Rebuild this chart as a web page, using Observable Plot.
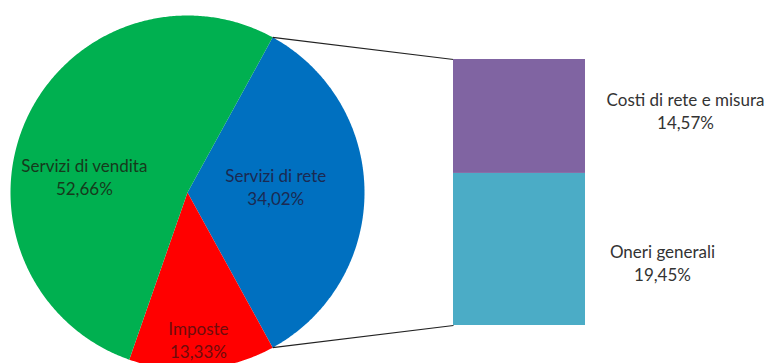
<!DOCTYPE html>
<html>
<head>
<meta charset="utf-8">
<script src="https://cdn.jsdelivr.net/npm/d3@7"></script>
<script src="https://cdn.jsdelivr.net/npm/@observablehq/plot@0.6"></script>
<style>
  html, body { margin: 0; padding: 0; background: #fff; }
  #chart svg { display: block; }
</style>
</head>
<body>
<div id="chart"></div>
<script>
// ---- Data ----
const pieCategories = ["Servizi di rete", "Imposte", "Servizi di vendita"];
const pieValues = [34.02, 13.33, 52.66];
const pieColors = ["#0070c0", "#ff0000", "#00b050"];
const pieLabelColors = ["#1b2a52", "#6e0c0c", "#163a1c"];

const barCategories = ["Oneri generali", "Costi di rete e misura"]; // bottom to top
const barValues = [19.45, 14.57];
const barColors = ["#4bacc6", "#8064a2"];

// ---- Layout ----
const W = 765, H = 363;
const layout = {
  cx: 187, cy: 192, r: 177,
  labelRadius: [0.50, 0.83, 0.59],   // fraction of radius, per pie slice
  labelShift: [-4, 0.5, -15],        // degrees, per pie slice
  barX0: 453, barX1: 585, barBottom: 325, barTop: 59,
  barLabelX: [662, 685], barLabelDy: [13, -6]
};
const fmt = v => v.toFixed(2).replace(".", ",") + "%";
const rad = Math.PI / 180;

// Pie: the "other" slice (Servizi di rete) is centred on the right-hand horizontal
const total = d3.sum(pieValues);
const pie = d3.pie().sort(null).value(d => d)
  .startAngle(Math.PI / 2 - Math.PI * pieValues[0] / total)
  .endAngle(Math.PI / 2 - Math.PI * pieValues[0] / total + 2 * Math.PI);
const arcs = pie(pieValues);
const pt = (a, rr) => ({x: layout.cx + rr * Math.sin(a), y: layout.cy - rr * Math.cos(a)});

const sliceMarks = arcs.map((a, i) => {
  const pts = [pt(0, 0)];
  const n = Math.max(2, Math.ceil((a.endAngle - a.startAngle) / (0.5 * rad)));
  for (let k = 0; k <= n; k++) pts.push(pt(a.startAngle + (a.endAngle - a.startAngle) * k / n, layout.r));
  pts.push(pt(0, 0));
  return Plot.line(pts, {x: "x", y: "y", fill: pieColors[i], stroke: "none", curve: "linear"});
});

const pieLabels = arcs.map((a, i) => {
  const mid = (a.startAngle + a.endAngle) / 2 + layout.labelShift[i] * rad;
  const p = pt(mid, layout.labelRadius[i] * layout.r);
  return {x: p.x, y: p.y, text: pieCategories[i] + "\n" + fmt(pieValues[i]), color: pieLabelColors[i]};
});

// Bar (stacked) — maps the "Servizi di rete" share onto the bar height
const pxPerPct = (layout.barBottom - layout.barTop) / d3.sum(barValues);
let acc = 0;
const barRects = barValues.map((v, i) => {
  const y1 = layout.barBottom - acc * pxPerPct;
  acc += v;
  const y2 = layout.barBottom - acc * pxPerPct;
  return {x1: layout.barX0, x2: layout.barX1, y1, y2, color: barColors[i], cat: barCategories[i], value: v};
});
const barLabels = barRects.map((b, i) => ({
  x: layout.barLabelX[i], y: (b.y1 + b.y2) / 2 + layout.barLabelDy[i],
  text: b.cat + "\n" + fmt(b.value)
}));

// Connectors from the "other" slice edges to the bar corners
const blue = arcs[0];
const pTop = pt(blue.startAngle, layout.r), pBot = pt(blue.endAngle, layout.r);
const links = [
  {x1: pTop.x, y1: pTop.y, x2: layout.barX0, y2: layout.barTop},
  {x1: pBot.x, y1: pBot.y, x2: layout.barX0, y2: layout.barBottom}
];

const chart = Plot.plot({
  width: W, height: H,
  margin: 0,
  x: {domain: [0, W], range: [0, W], axis: null},
  y: {domain: [0, H], range: [0, H], axis: null},
  style: {fontFamily: "Lato, 'DejaVu Sans', sans-serif", background: "#fff"},
  marks: [
    ...sliceMarks,
    Plot.link(links, {x1: "x1", y1: "y1", x2: "x2", y2: "y2", stroke: "#222", strokeWidth: 1.2}),
    ...barRects.map(b => Plot.rect([b], {x1: "x1", x2: "x2", y1: "y1", y2: "y2", fill: b.color})),
    ...pieLabels.map(l => Plot.text([l], {x: "x", y: "y", text: "text", fill: l.color, fontSize: 17, lineHeight: 1.33, textAnchor: "middle"})),
    Plot.text(barLabels, {x: "x", y: "y", text: "text", fill: "#333", fontSize: 17, lineHeight: 1.33, textAnchor: "middle"})
  ]
});
document.getElementById("chart").append(chart);
</script>
</body>
</html>
